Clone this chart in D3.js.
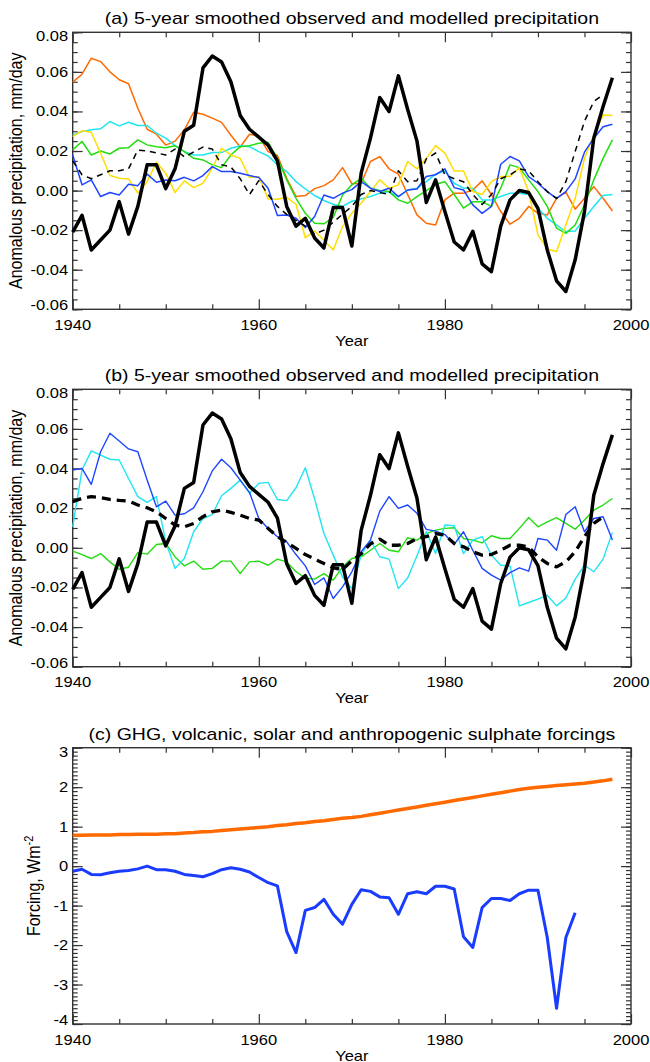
<!DOCTYPE html>
<html><head><meta charset="utf-8">
<script src="https://cdn.jsdelivr.net/npm/d3@7"></script>
<style>body{margin:0;background:#fff}svg{display:block}</style>
</head><body><svg id="c" width="650" height="1062"></svg>
<script>
// ---------- DATA ----------
const years = d3.range(1940, 1999);            // 1940 .. 1998
const xTicks = [1940, 1960, 1980, 2000];
const xMinor = [1945, 1950, 1955, 1965, 1970, 1975, 1985, 1990, 1995];
const yTicksAB = [-0.06, -0.04, -0.02, 0.00, 0.02, 0.04, 0.06, 0.08];
const yLabelsAB = ["-0.06", "-0.04", "-0.02", "0.00", "0.02", "0.04", "0.06", "0.08"];
const yTicksC = [-4, -3, -2, -1, 0, 1, 2, 3];
const yLabelsC = ["-4", "-3", "-2", "-1", "0", "1", "2", "3"];

const observed = [-0.021,-0.0125,-0.030,-0.025,-0.020,-0.0056,-0.022,-0.008,0.013,0.013,
 0.001,0.011,0.030,0.033,0.062,0.068,0.065,0.055,0.038,0.031,
 0.027,0.023,0.015,-0.008,-0.018,-0.014,-0.024,-0.029,-0.0086,-0.0086,
 -0.028,0.0088,0.0265,0.047,0.040,0.058,0.041,0.025,-0.006,0.0054,
 -0.0106,-0.026,-0.030,-0.0206,-0.037,-0.041,-0.018,-0.0047,0.0,-0.001,
 -0.009,-0.030,-0.0456,-0.051,-0.035,-0.0106,0.0265,0.0425,0.057];

// panel (a) model runs
const aMean = [0.015,0.008,0.006,0.008,0.010,0.010,0.011,0.0205,0.020,0.019,
 0.018,0.021,0.017,0.0195,0.022,0.021,0.013,0.012,0.006,-0.002,
 0.005,-0.002,-0.008,-0.012,-0.015,-0.018,-0.022,-0.020,-0.016,-0.012,
 -0.008,-0.002,0.000,-0.001,-0.002,0.010,0.0045,0.005,0.016,0.019,
 0.008,0.006,0.0045,-0.002,-0.007,-0.002,0.006,0.008,0.011,0.010,
 0.0045,-0.0005,-0.004,0.0045,0.0197,0.035,0.045,0.0485];
const aOrange = [0.0548,0.0588,0.0669,0.0652,0.060,0.056,0.054,0.0416,0.031,0.0285,
 0.023,0.025,0.0307,0.0396,0.0386,0.0366,0.0345,0.028,0.022,0.0285,
 0.0276,0.0197,0.0177,0.0062,-0.003,-0.0025,0.001,0.0025,0.0054,0.0116,
 0.0035,0.0037,0.0147,0.0172,0.011,0.0083,-0.002,-0.0123,-0.0165,-0.0174,
 -0.0047,-0.0013,-0.0013,0.0003,0.0049,-0.002,-0.0106,-0.017,-0.014,-0.008,
 -0.0115,-0.0123,-0.0039,-0.0008,-0.0094,-0.0039,0.002,-0.0039,-0.0103];
const aCyan = [0.0281,0.0298,0.0307,0.0312,0.0349,0.0327,0.0345,0.0329,0.0329,0.029,
 0.0265,0.0227,0.0197,0.018,0.018,0.0192,0.0192,0.0214,0.0227,0.0222,
 0.0197,0.0175,0.013,0.0096,0.0045,0.0008,-0.0025,-0.005,-0.0069,-0.008,
 -0.0054,-0.0042,-0.003,-0.0013,-0.0005,-0.003,0.0003,0.0012,0.0045,0.0083,
 0.0099,0.0037,0.0012,0.0012,-0.0047,-0.0047,-0.003,-0.0013,-0.0013,-0.002,
 -0.0089,-0.014,-0.0174,-0.0207,-0.0204,-0.014,-0.008,-0.0025,-0.002];
const aGreen = [0.0206,0.0248,0.018,0.020,0.0185,0.0214,0.0217,0.0256,0.0231,0.0222,
 0.0217,0.0227,0.0197,0.0163,0.0155,0.013,0.0116,0.018,0.0222,0.0227,
 0.0239,0.0244,0.0163,0.0054,-0.0039,-0.0115,-0.0165,-0.0168,-0.0136,-0.0022,
 0.0029,0.0062,0.0012,0.0,-0.0005,-0.0047,-0.0064,-0.003,0.0,0.0032,
 0.0045,-0.002,-0.0089,-0.0056,-0.0056,-0.008,0.0012,0.013,0.0116,0.0054,
 -0.0005,-0.008,-0.019,-0.0216,-0.0174,-0.0072,0.0054,0.0163,0.0256];
const aYellow = [0.0273,0.0302,0.0295,0.0189,0.0076,0.0062,0.0059,-0.0013,0.0045,0.0143,
 0.0088,-0.001,0.0049,0.0015,0.0037,0.0113,0.0214,0.018,0.0163,0.0066,
 0.0071,-0.0042,-0.0044,-0.0034,-0.0069,-0.0238,-0.0204,-0.025,-0.030,-0.0182,
 -0.0115,-0.0064,-0.0005,0.0054,0.0012,0.0029,0.0147,0.011,0.0163,0.0227,
 0.0189,0.0099,0.0099,-0.0005,-0.002,0.0045,0.0071,0.0071,0.0116,-0.0005,
 -0.0224,-0.0295,-0.0308,-0.0174,-0.0039,0.0163,0.0281,0.0382,0.0379];
const aBlue = [0.018,0.0029,0.0054,-0.003,-0.001,-0.0022,0.0032,0.0025,0.0083,0.0042,
 0.0054,0.005,0.0067,0.0049,0.0076,0.0121,0.0096,0.0096,0.0088,0.0076,
 0.0066,0.0012,-0.0126,-0.0123,-0.014,-0.0187,-0.0131,-0.0022,-0.0039,-0.0013,
 0.0005,0.0045,0.0012,-0.0005,0.0012,-0.003,0.0003,0.0008,0.0071,0.008,
 0.011,0.0015,0.0003,-0.0072,-0.0115,-0.008,0.0133,0.0172,0.015,0.0071,
 0.0037,-0.0005,-0.0039,-0.0005,0.0059,0.0194,0.0265,0.0323,0.0335];

// panel (b) model runs
const bMean = [0.0233,0.025,0.0258,0.0253,0.0244,0.0239,0.0236,0.0216,0.0202,0.0182,
 0.0148,0.0115,0.0106,0.0123,0.0157,0.0182,0.019,0.0179,0.0165,0.0148,
 0.014,0.0098,0.0056,0.0027,-0.0003,-0.0034,-0.0057,-0.0079,-0.0101,-0.011,
 -0.0065,-0.003,0.002,0.0044,0.0013,0.0013,0.0022,0.0047,0.0056,0.0072,
 0.0064,0.0022,0.0005,-0.002,-0.0037,-0.0034,-0.0012,0.0013,0.0013,0.0005,
 -0.0046,-0.0079,-0.0096,-0.0071,-0.002,0.0056,0.0123,0.0157];
const bBlue = [0.0393,0.0401,0.032,0.0485,0.0578,0.0539,0.0499,0.0485,0.0342,0.0207,
 0.0236,0.0165,0.0172,0.0202,0.0283,0.0388,0.0447,0.0404,0.0342,0.028,
 0.0148,0.0098,0.0056,0.003,-0.0034,-0.0091,-0.0185,-0.0152,-0.0256,-0.0197,
 -0.0121,-0.002,0.0039,0.0185,0.0258,0.0199,0.0216,0.0174,0.0093,0.0084,
 0.0067,0.0017,0.0081,-0.0012,-0.0104,-0.0138,-0.0163,-0.0125,-0.0101,-0.0118,
 0.0047,0.0039,-0.0012,0.0168,0.0207,0.0081,0.0148,0.0157,0.0039];
const bCyan = [0.0106,0.0393,0.0489,0.0468,0.0447,0.0443,0.035,0.0258,0.0229,0.0258,
 0.003,-0.0104,-0.0054,0.0081,0.0148,0.0168,0.0263,0.030,0.0342,0.0275,
 0.0325,0.033,0.0244,0.0238,0.0303,0.0404,0.0246,0.0072,-0.0037,-0.0147,
 -0.0206,-0.0037,0.0039,-0.0045,-0.0057,-0.0206,-0.0152,-0.004,0.0081,-0.0029,
 0.0115,0.0111,-0.0029,0.0039,0.0056,-0.0037,-0.0088,-0.0091,-0.0293,-0.0276,
 -0.0259,-0.0239,-0.0293,-0.0253,-0.0158,-0.0088,-0.0121,-0.0057,0.0078];
const bGreen = [-0.0017,-0.0034,-0.0054,-0.0029,-0.0071,-0.0108,-0.0098,-0.0024,-0.0032,0.0017,
 0.0022,-0.0046,-0.0091,-0.0067,-0.0108,-0.0104,-0.0067,-0.0067,-0.013,-0.0071,
 -0.0067,-0.0088,-0.0057,-0.0071,-0.0121,-0.0152,-0.0158,-0.013,-0.0163,-0.0096,
 -0.0054,-0.0046,-0.0012,0.0022,-0.0012,-0.002,0.0051,0.0039,0.0072,0.0089,
 0.0098,0.0101,0.0047,0.0039,0.0025,0.0061,0.0047,0.0047,0.0098,0.0153,
 0.0106,0.0131,0.0152,0.0123,0.0094,0.014,0.019,0.0216,0.0249];

// panel (c) forcings, W m-2
const ghgForcing = [0.78,0.78,0.79,0.79,0.79,0.80,0.80,0.81,0.81,0.81,
 0.82,0.82,0.84,0.85,0.87,0.88,0.90,0.92,0.94,0.96,
 0.98,1.00,1.03,1.05,1.08,1.10,1.13,1.15,1.18,1.21,
 1.23,1.26,1.30,1.34,1.38,1.42,1.46,1.50,1.54,1.58,
 1.62,1.66,1.70,1.74,1.78,1.82,1.86,1.90,1.94,1.97,
 2.00,2.02,2.04,2.06,2.08,2.10,2.13,2.16,2.20];
const volcForcing = [-0.13,-0.08,-0.21,-0.22,-0.17,-0.13,-0.11,-0.07,0.0,-0.09,
 -0.09,-0.13,-0.21,-0.24,-0.27,-0.19,-0.09,-0.04,-0.08,-0.15,
 -0.29,-0.42,-0.50,-1.66,-2.19,-1.12,-1.05,-0.84,-1.22,-1.47,
 -0.97,-0.60,-0.64,-0.78,-0.80,-1.22,-0.70,-0.65,-0.70,-0.51,
 -0.51,-0.58,-1.79,-2.06,-1.05,-0.82,-0.82,-0.87,-0.70,-0.61,
 -0.61,-1.81,-3.60,-1.81,-1.18];

const titles = ["(a) 5-year smoothed observed and modelled precipitation",
                "(b) 5-year smoothed observed and modelled precipitation",
                "(c) GHG, volcanic, solar and anthropogenic sulphate forcings"];

// ---------- DRAWING ----------
const svg = d3.select('#c');
const FONT = "'Liberation Sans', Arial, Helvetica, sans-serif";
const L = 72.7, R = 631;
const x = d3.scaleLinear().domain([1940, 2000]).range([L, R]);
const AX = '#333';

function txt(parent, px, py, str, size, anchor, sx) {
  return parent.append('text')
    .attr('transform', `translate(${px},${py}) scale(${sx},1)`)
    .attr('text-anchor', anchor).attr('font-size', size)
    .attr('font-family', FONT).attr('fill', '#000').text(str);
}

function panel(top, bottom, domain, yTicks, yLabels, yMinor, title, yTitle) {
  const y = d3.scaleLinear().domain(domain).range([bottom, top]);
  const g = svg.append('g');
  const styleAxis = sel => { sel.select('.domain').remove(); sel.selectAll('line').attr('stroke', AX).attr('stroke-width', 1.2); sel.selectAll('text').remove(); };
  // minor ticks
  g.append('g').attr('transform', `translate(0,${bottom})`).call(d3.axisBottom(x).tickValues(xMinor).tickSize(-5).tickFormat('')).call(styleAxis);
  g.append('g').attr('transform', `translate(0,${top})`).call(d3.axisTop(x).tickValues(xMinor).tickSize(-5).tickFormat('')).call(styleAxis);
  g.append('g').attr('transform', `translate(${L},0)`).call(d3.axisLeft(y).tickValues(yMinor).tickSize(-5).tickFormat('')).call(styleAxis);
  g.append('g').attr('transform', `translate(${R},0)`).call(d3.axisRight(y).tickValues(yMinor).tickSize(-5).tickFormat('')).call(styleAxis);
  // major ticks
  g.append('g').attr('transform', `translate(0,${bottom})`).call(d3.axisBottom(x).tickValues(xTicks).tickSize(-10).tickFormat('')).call(styleAxis);
  g.append('g').attr('transform', `translate(0,${top})`).call(d3.axisTop(x).tickValues(xTicks).tickSize(-10).tickFormat('')).call(styleAxis);
  g.append('g').attr('transform', `translate(${L},0)`).call(d3.axisLeft(y).tickValues(yTicks).tickSize(-10).tickFormat('')).call(styleAxis);
  g.append('g').attr('transform', `translate(${R},0)`).call(d3.axisRight(y).tickValues(yTicks).tickSize(-10).tickFormat('')).call(styleAxis);
  // frame
  g.append('rect').attr('x', L).attr('y', top).attr('width', R - L).attr('height', bottom - top)
    .attr('fill', 'none').attr('stroke', AX).attr('stroke-width', 1.4);
  // labels
  xTicks.forEach(v => txt(g, x(v), bottom + 20.5, String(v), 14, 'middle', 1.18));
  yTicks.forEach((v, i) => {
    let off = 5;
    if (i === 0) off = 1; if (i === yTicks.length - 1) off = 9;
    txt(g, L - 4.5, y(v) + off, yLabels[i], 14, 'end', 1.18);
  });
  txt(g, (L + R) / 2, bottom + 36.5, 'Year', 14, 'middle', 1.18);
  txt(g, (L + R) / 2, top - 8, title, 16, 'middle', 1.22);
  return { g, y };
}

function drawLine(g, y, data, color, width, dash) {
  const line = d3.line().x((d, i) => x(years[i])).y(d => y(d));
  const p = g.append('path').datum(data).attr('d', line).attr('fill', 'none')
    .attr('stroke', color).attr('stroke-width', width).attr('stroke-linejoin', 'round');
  if (dash) p.attr('stroke-dasharray', dash);
  return p;
}

const minorAB = d3.range(-0.06, 0.0801, 0.005).map(v => +v.toFixed(3));
const minorC = d3.range(-4, 3.001, 0.1).map(v => +v.toFixed(1));

const COL = { orange: '#ff6a00', cyan: '#1ee6f0', green: '#22dd10', yellow: '#ffdd00', blue: '#1e46ff' };

// panel a
const pa = panel(32.3, 309.3, [-0.06, 0.08], yTicksAB, yLabelsAB, minorAB, titles[0]);
drawLine(pa.g, pa.y, aOrange, COL.orange, 1.5);
drawLine(pa.g, pa.y, aCyan, COL.cyan, 1.5);
drawLine(pa.g, pa.y, aGreen, COL.green, 1.5);
drawLine(pa.g, pa.y, aYellow, COL.yellow, 1.5);
drawLine(pa.g, pa.y, aBlue, COL.blue, 1.5);
drawLine(pa.g, pa.y, aMean, '#000', 1.5, '6,5');
drawLine(pa.g, pa.y, observed, '#000', 3.5);

// panel b
const pb = panel(389.3, 666.7, [-0.06, 0.08], yTicksAB, yLabelsAB, minorAB, titles[1]);
drawLine(pb.g, pb.y, bGreen, COL.green, 1.4);
drawLine(pb.g, pb.y, bCyan, COL.cyan, 1.4);
drawLine(pb.g, pb.y, bBlue, COL.blue, 1.4);
drawLine(pb.g, pb.y, bMean, '#000', 3.3, '9,6');
drawLine(pb.g, pb.y, observed, '#000', 3.5);

// panel c
const pc = panel(747.7, 1024, [-4, 3], yTicksC, yLabelsC, minorC, titles[2]);
drawLine(pc.g, pc.y, ghgForcing, '#ff6a00', 3.5);
drawLine(pc.g, pc.y, volcForcing, '#1a3cff', 3);

// y-axis titles (rotated)
function yTitle(cx, cy, size) {
  return svg.append('text').attr('transform', `translate(${cx},${cy}) scale(1.15,1) rotate(-90)`)
    .attr('text-anchor', 'middle').attr('font-size', size).attr('font-family', FONT).attr('fill', '#000');
}
yTitle(22, (32.3 + 309.3) / 2, 16).text('Anomalous precipitation, mm/day');
yTitle(22, (389.3 + 666.7) / 2, 16).text('Anomalous precipitation, mm/day');
const fc = yTitle(40, (747.7 + 1024) / 2, 16);
fc.append('tspan').text('Forcing, Wm');
fc.append('tspan').attr('dy', -6).attr('font-size', 11).text('-2');
</script></body></html>
